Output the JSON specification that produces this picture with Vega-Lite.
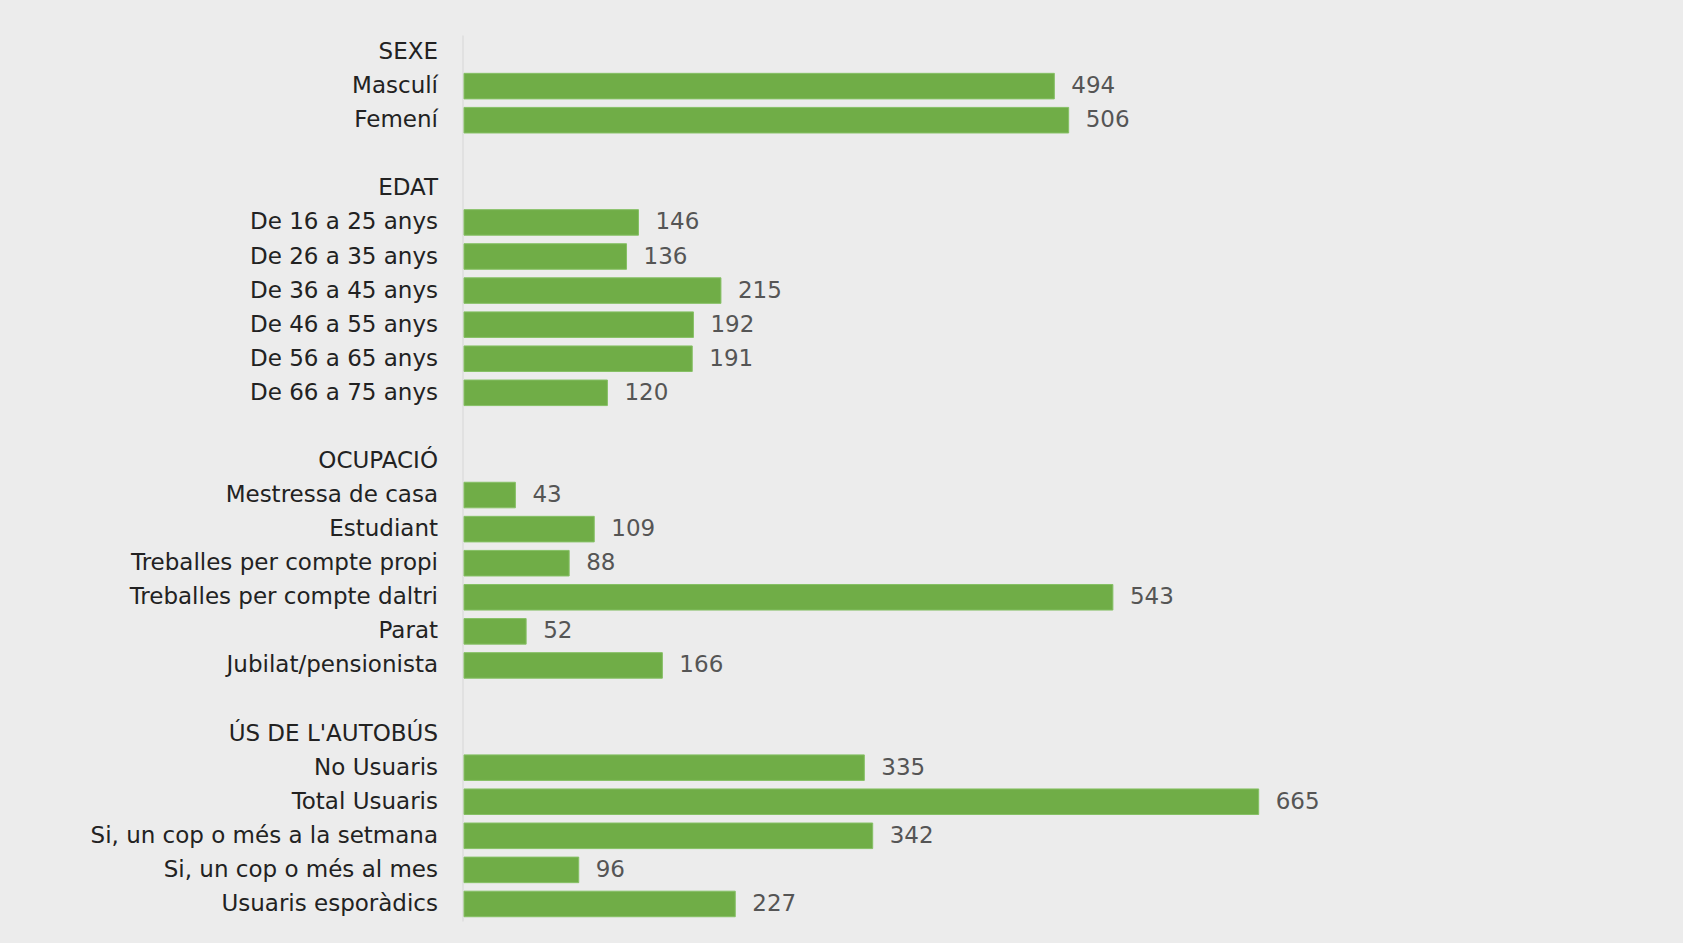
{
  "$schema": "https://vega.github.io/schema/vega-lite/v6.json",
  "width": 1195,
  "height": 886,
  "autosize": {"type": "none"},
  "padding": {"left": 464, "top": 35, "right": 24, "bottom": 22},
  "background": "#ececec",
  "config": {"view": {"stroke": null}, "font": "DejaVu Sans"},
  "data": {
    "values": [
      {"cat": "Masculí", "n": 494},
      {"cat": "Femení", "n": 506},
      {"cat": "De 16 a 25 anys", "n": 146},
      {"cat": "De 26 a 35 anys", "n": 136},
      {"cat": "De 36 a 45 anys", "n": 215},
      {"cat": "De 46 a 55 anys", "n": 192},
      {"cat": "De 56 a 65 anys", "n": 191},
      {"cat": "De 66 a 75 anys", "n": 120},
      {"cat": "Mestressa de casa", "n": 43},
      {"cat": "Estudiant", "n": 109},
      {"cat": "Treballes per compte propi", "n": 88},
      {"cat": "Treballes per compte daltri", "n": 543},
      {"cat": "Parat", "n": 52},
      {"cat": "Jubilat/pensionista", "n": 166},
      {"cat": "No Usuaris", "n": 335},
      {"cat": "Total Usuaris", "n": 665},
      {"cat": "Si, un cop o més a la setmana", "n": 342},
      {"cat": "Si, un cop o més al mes", "n": 96},
      {"cat": "Usuaris esporàdics", "n": 227}
    ]
  },
  "encoding": {
    "y": {
      "field": "cat",
      "type": "nominal",
      "scale": {
        "domain": ["SEXE", "Masculí", "Femení", " ", "EDAT", "De 16 a 25 anys", "De 26 a 35 anys", "De 36 a 45 anys", "De 46 a 55 anys", "De 56 a 65 anys", "De 66 a 75 anys", "  ", "OCUPACIÓ", "Mestressa de casa", "Estudiant", "Treballes per compte propi", "Treballes per compte daltri", "Parat", "Jubilat/pensionista", "   ", "ÚS DE L'AUTOBÚS", "No Usuaris", "Total Usuaris", "Si, un cop o més a la setmana", "Si, un cop o més al mes", "Usuaris esporàdics"],
        "paddingInner": 0.25,
        "paddingOuter": 0.125
      },
      "axis": {
        "title": null,
        "ticks": false,
        "tickSize": 0,
        "labelPadding": 25,
        "labelFontSize": 23,
        "labelFont": "DejaVu Sans",
        "labelColor": "#222222",
        "labelLimit": 600,
        "domainColor": "#d6d6d6",
        "domainWidth": 1,
        "offset": 1.5,
        "grid": false
      }
    },
    "x": {
      "field": "n",
      "type": "quantitative",
      "scale": {"domain": [0, 1000]},
      "axis": null
    }
  },
  "layer": [
    {"mark": {"type": "bar", "color": "#70ad47", "stroke": "#86c065", "strokeWidth": 1}},
    {
      "mark": {"type": "text", "align": "left", "baseline": "middle", "dx": 17, "fontSize": 23, "font": "DejaVu Sans", "color": "#555555"},
      "encoding": {"text": {"field": "n", "type": "quantitative"}}
    }
  ]
}
